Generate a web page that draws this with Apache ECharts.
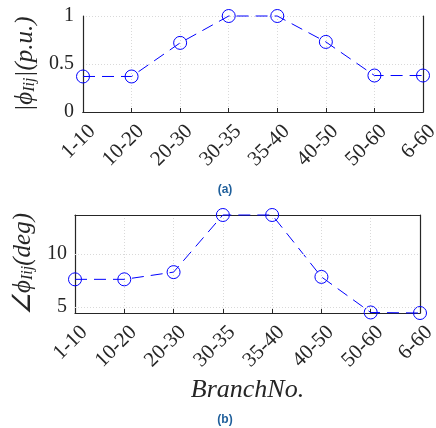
<!DOCTYPE html>
<html>
<head>
<meta charset="utf-8">
<script src="https://cdn.jsdelivr.net/npm/echarts@6/dist/echarts.min.js"></script>
<style>
  html, body { margin: 0; padding: 0; background: #fff; }
  #chart { width: 436px; height: 428px; }
</style>
</head>
<body>
<div id="chart"></div>
<script>
// Branch labels shared by both panels
const branches = ['1-10', '10-20', '20-30', '30-35', '35-40', '40-50', '50-60', '6-60'];
// Magnitude of the branch quantity (p.u.)
const magnitude = [0.37, 0.37, 0.72, 1.0, 1.0, 0.73, 0.38, 0.38];
// Angle of the branch quantity (deg)
const angleDeg = [7.62, 7.62, 8.3, 13.68, 13.68, 7.85, 4.5, 4.45];
// Tick values of the angle axis
const angleTicks = [5, 10];

const serif = 'Liberation Serif';
const axisColor = '#262626';
const gridColor = '#d9d9d9';
const blue = '#0000ff';

function catAxis(gridIndex) {
  return {
    type: 'category', gridIndex, data: branches, boundaryGap: false,
    axisLine: { lineStyle: { color: axisColor, width: 1.2 } },
    axisTick: { inside: true, length: 4, lineStyle: { color: axisColor } },
    // top-anchored tall line box sets the slanted labels below and right of each tick
    axisLabel: {
      rotate: 45, fontFamily: serif, fontSize: 21, color: axisColor, margin: 7,
      verticalAlign: 'top', lineHeight: 26
    },
    splitLine: { show: true, lineStyle: { color: gridColor, type: [1, 2] } }
  };
}
// Upper edge of the box around each panel
function topFrame(gridIndex) {
  return {
    type: 'category', gridIndex, position: 'top', data: branches, boundaryGap: false,
    axisLine: { lineStyle: { color: axisColor, width: 1.2 } },
    axisTick: { show: false }, axisLabel: { show: false }, splitLine: { show: false }
  };
}
// Right edge of the box around each panel
function rightFrame(gridIndex, min, max) {
  return {
    type: 'value', gridIndex, position: 'right', min, max,
    axisLine: { show: true, lineStyle: { color: axisColor, width: 1.2 } },
    axisTick: { show: false }, axisLabel: { show: false }, splitLine: { show: false }
  };
}

const yName = { fontFamily: serif, fontStyle: 'italic', fontSize: 25, color: axisColor };
const yNameRich = {
  a: yName,
  s: Object.assign({}, yName, { fontSize: 16, padding: [10, 0, 0, 0] })
};

const option = {
  animation: false,
  grid: [
    { left: 83, right: 13, top: 16, height: 96, show: false, outerBoundsMode: 'none' },
    { left: 75, right: 16, top: 215, height: 98, show: false, outerBoundsMode: 'none' }
  ],
  xAxis: [
    catAxis(0),
    topFrame(0),
    Object.assign(catAxis(1), {
      name: 'BranchNo.', nameLocation: 'middle', nameGap: 64,
      nameTextStyle: { fontFamily: serif, fontStyle: 'italic', fontSize: 26, color: axisColor }
    }),
    topFrame(1)
  ],
  yAxis: [
    {
      type: 'value', gridIndex: 0, min: 0, max: 1, interval: 0.5,
      name: '{a||ϕ}{s|Iij}{a||(p.u.)}', nameLocation: 'middle', nameGap: 36,
      nameTextStyle: Object.assign({ rich: yNameRich }, yName),
      axisLine: { show: true, lineStyle: { color: axisColor, width: 1.2 } },
      axisTick: { inside: true, length: 4, lineStyle: { color: axisColor } },
      axisLabel: { fontFamily: serif, fontSize: 20, color: axisColor, margin: 9 },
      splitLine: { show: true, lineStyle: { color: gridColor, type: [1, 2] } }
    },
    rightFrame(0, 0, 1),
    {
      type: 'value', gridIndex: 1, min: 4.45, max: 13.68,
      name: '{a|∠ϕ}{s|Iij}{a|(deg)}', nameLocation: 'middle', nameGap: 32,
      nameTextStyle: Object.assign({ rich: yNameRich }, yName),
      axisLine: { show: true, lineStyle: { color: axisColor, width: 1.2 } },
      axisTick: { inside: true, length: 4, customValues: angleTicks, lineStyle: { color: axisColor } },
      axisLabel: { fontFamily: serif, fontSize: 20, color: axisColor, margin: 8, customValues: angleTicks },
      splitLine: { show: false }
    },
    rightFrame(1, 4.45, 13.68)
  ],
  series: [
    {
      type: 'line', xAxisIndex: 0, yAxisIndex: 0, data: magnitude, clip: false,
      symbol: 'circle', symbolSize: 13,
      itemStyle: { color: 'transparent', borderColor: blue, borderWidth: 1 },
      lineStyle: { color: blue, width: 1, type: [12, 7] }
    },
    {
      type: 'line', xAxisIndex: 2, yAxisIndex: 2, data: angleDeg, clip: false,
      symbol: 'circle', symbolSize: 13,
      itemStyle: { color: 'transparent', borderColor: blue, borderWidth: 1 },
      lineStyle: { color: blue, width: 1, type: [12, 7] },
      // horizontal dotted grid at the angle ticks
      markLine: {
        silent: true, symbol: 'none', label: { show: false },
        lineStyle: { color: gridColor, type: [1, 2], width: 1 },
        data: angleTicks.map(v => ({ yAxis: v }))
      }
    }
  ],
  graphic: [
    { type: 'text', x: 225, y: 190, style: { text: '(a)', font: 'bold 12px "Liberation Sans"', fill: '#1f5f9b', align: 'center', verticalAlign: 'middle' } },
    { type: 'text', x: 225, y: 420, style: { text: '(b)', font: 'bold 12px "Liberation Sans"', fill: '#1f5f9b', align: 'center', verticalAlign: 'middle' } }
  ]
};

const chart = echarts.init(document.getElementById('chart'));
chart.setOption(option);
</script>
</body>
</html>
